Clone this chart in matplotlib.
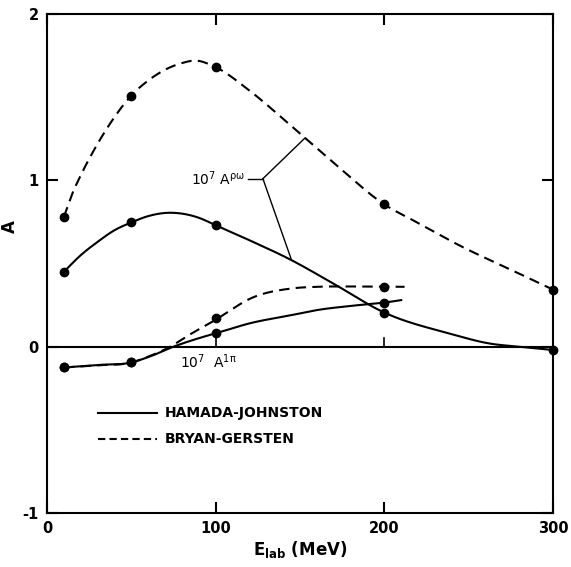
import matplotlib
matplotlib.use("Agg")
import matplotlib.pyplot as plt
import numpy as np

# (E_lab in MeV, A)
bg_rw_E = [10, 15, 20, 30, 40, 50, 60, 70, 80, 88, 100, 120, 140, 153, 174, 200, 217, 247, 276, 300]
bg_rw_A = [0.78, 0.92, 1.03, 1.22, 1.38, 1.51, 1.60, 1.665, 1.705, 1.72, 1.68, 1.54, 1.37, 1.255, 1.07, 0.855, 0.76, 0.596, 0.458, 0.343]

hj_rw_E = [10, 20, 30, 40, 50, 60, 72, 80, 90, 100, 120, 145, 168, 200, 239, 263, 280, 300]
hj_rw_A = [0.45, 0.55, 0.63, 0.70, 0.747, 0.785, 0.805, 0.80, 0.775, 0.73, 0.64, 0.52, 0.39, 0.205, 0.078, 0.018, 0.0, -0.02]

bg_1p_E = [10, 30, 50, 60, 73, 85, 98, 123, 145, 160, 180, 200, 212]
bg_1p_A = [-0.125, -0.112, -0.095, -0.06, 0.0, 0.075, 0.15, 0.30, 0.35, 0.36, 0.362, 0.36, 0.36]

hj_1p_E = [10, 30, 50, 62, 75, 85, 95, 100, 120, 145, 160, 180, 200, 210]
hj_1p_A = [-0.125, -0.11, -0.095, -0.055, 0.0, 0.035, 0.066, 0.08, 0.14, 0.19, 0.22, 0.245, 0.265, 0.28]

# calculated points (dots)
dot_E_rw = [10, 50, 100, 200, 300]
bg_dot_rw = [0.78, 1.51, 1.68, 0.855, 0.343]
hj_dot_rw = [0.45, 0.747, 0.73, 0.205, -0.02]
dot_E_1p = [10, 50, 100, 200]
bg_dot_1p = [-0.125, -0.095, 0.17, 0.36]
hj_dot_1p = [-0.125, -0.095, 0.08, 0.265]


def smooth(xs, ys, n=20):
    # cubic hermite through the read points, only to draw them as a smooth line
    x = np.asarray(xs, float)
    y = np.asarray(ys, float)
    h = np.diff(x)
    d = np.diff(y) / h
    m = np.empty_like(y)
    m[0], m[-1] = d[0], d[-1]
    m[1:-1] = (d[:-1] * h[1:] + d[1:] * h[:-1]) / (h[:-1] + h[1:])
    px, py = [], []
    for i in range(len(h)):
        t = np.linspace(0, 1, n, endpoint=False)
        h00 = 2 * t**3 - 3 * t**2 + 1
        h10 = t**3 - 2 * t**2 + t
        h01 = -2 * t**3 + 3 * t**2
        h11 = t**3 - t**2
        px.extend(x[i] + t * h[i])
        py.extend(h00 * y[i] + h10 * h[i] * m[i] + h01 * y[i + 1] + h11 * h[i] * m[i + 1])
    px.append(x[-1])
    py.append(y[-1])
    return px, py


plt.rcParams['mathtext.default'] = 'regular'
plt.rcParams['axes.unicode_minus'] = False

fig = plt.figure(figsize=(5.71, 5.67), dpi=100)
ax = fig.add_axes([0.0823, 0.0952, 0.8862, 0.8801])

lw = 1.5
dash = (0, (5, 3))
ax.plot(*smooth(bg_rw_E, bg_rw_A), color='black', lw=lw, linestyle=dash)
ax.plot(*smooth(hj_rw_E, hj_rw_A), color='black', lw=lw)
ax.plot(*smooth(bg_1p_E, bg_1p_A), color='black', lw=lw, linestyle=dash)
ax.plot(*smooth(hj_1p_E, hj_1p_A), color='black', lw=lw)

for ys, xs in [(bg_dot_rw, dot_E_rw), (hj_dot_rw, dot_E_rw), (bg_dot_1p, dot_E_1p), (hj_dot_1p, dot_E_1p)]:
    ax.plot(xs, ys, 'o', color='black', ms=6, clip_on=False, zorder=5)

ax.axhline(0, color='black', lw=1.5)
ax.plot([200, 200], [0, 0.05], color='black', lw=1.2)

# annotation pointers
ax.plot([119, 128], [1.01, 1.01], color='black', lw=1)
ax.plot([128, 153], [1.01, 1.255], color='black', lw=1)
ax.plot([128, 145], [1.01, 0.52], color='black', lw=1)
ax.plot([100, 100], [0, 0.08], color='black', lw=1.2)
ax.text(117.5, 1.01, r'10$^7$ A$^{\rho\omega}$', ha='right', va='center', fontsize=10)
ax.text(79, -0.09, r'10$^7$  A$^{1\pi}$', ha='left', va='center', fontsize=10)

# legend
ax.plot([30, 65], [-0.40, -0.40], color='black', lw=lw)
ax.plot([30, 65], [-0.555, -0.555], color='black', lw=lw, linestyle=(0, (3.5, 2)))
ax.text(70, -0.40, 'HAMADA-JOHNSTON', ha='left', va='center', fontsize=10, fontweight='bold')
ax.text(70, -0.555, 'BRYAN-GERSTEN', ha='left', va='center', fontsize=10, fontweight='bold')

ax.set_xlim(0, 300)
ax.set_ylim(-1, 2)
ax.set_xticks([0, 100, 200, 300])
ax.set_yticks([-1, 0, 1, 2])
ax.tick_params(direction='in', length=8, width=1.5, top=True, right=True,
               labelsize=10.5, pad=6)
for lab in ax.get_xticklabels() + ax.get_yticklabels():
    lab.set_fontweight('bold')
for s in ax.spines.values():
    s.set_linewidth(1.5)

ax.set_xlabel(r'E$_{lab}$ (MeV)', fontsize=12, fontweight='bold', labelpad=2)
ax.set_ylabel('A', fontsize=12, fontweight='bold')
ax.yaxis.set_label_coords(-0.055, 0.575)

fig.savefig('out.png', dpi=100)
